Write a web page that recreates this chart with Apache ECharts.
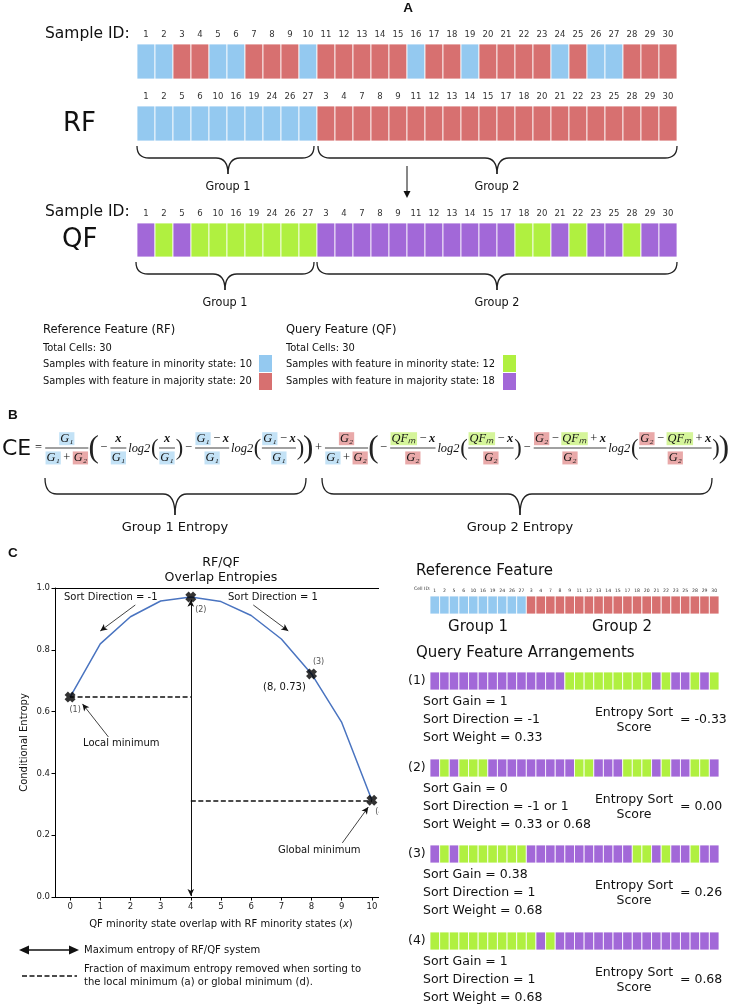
<!DOCTYPE html>
<html>
<head>
<meta charset="utf-8">
<title>Entropy sort overview</title>
<script src="https://cdn.jsdelivr.net/npm/echarts@6/dist/echarts.min.js"></script>
<style>
  html, body { margin: 0; padding: 0; background: #fff; }
  #chart { width: 729px; height: 1008px; }
</style>
</head>
<body>
<div id="chart"></div>
<script>
// ---------- data ----------
const sampleIds = [1,2,3,4,5,6,7,8,9,10,11,12,13,14,15,16,17,18,19,20,21,22,23,24,25,26,27,28,29,30];
// 1 = minority state, 0 = majority state
const rfBySample = [1,1,0,0,1,1,0,0,0,1,0,0,0,0,0,1,0,0,1,0,0,0,0,1,0,1,1,0,0,0];
const sortedIds = [1,2,5,6,10,16,19,24,26,27,3,4,7,8,9,11,12,13,14,15,17,18,20,21,22,23,25,28,29,30];
const rfSorted = [1,1,1,1,1,1,1,1,1,1,0,0,0,0,0,0,0,0,0,0,0,0,0,0,0,0,0,0,0,0];
const qfSorted = [0,1,0,1,1,1,1,1,1,1,0,0,0,0,0,0,0,0,0,0,0,1,1,0,1,0,0,1,0,0];

const arrangement1 = [0,0,0,0,0,0,0,0,0,0,0,0,0,0,1,1,1,1,1,1,1,1,1,0,1,0,0,1,0,1];
const arrangement2 = [0,1,0,1,1,1,0,0,0,0,0,0,0,0,0,1,1,0,0,0,1,1,1,0,1,0,0,1,1,0];
const arrangement3 = [0,1,0,1,1,1,1,1,1,1,0,0,0,0,0,0,0,0,0,0,0,1,1,0,1,0,0,1,0,0];
const arrangement4 = [1,1,1,1,1,1,1,1,1,1,1,0,1,0,0,0,0,0,0,0,0,0,0,0,0,0,0,0,0,0];

const sortGain = ['1', '0', '0.38', '1'];
const sortDirection = ['-1', '-1 or 1', '1', '1'];
const sortWeight = ['0.33', '0.33 or 0.68', '0.68', '0.68'];
const entropySortScore = ['-0.33', '0.00', '0.26', '0.68'];

const overlapX = [0,1,2,3,4,5,6,7,8,9,10];
const conditionalEntropy = [0.647,0.819,0.907,0.958,0.971,0.956,0.911,0.835,0.722,0.565,0.313];
const markedX = [0, 4, 8, 10];
const markedY = [0.647, 0.971, 0.722, 0.313];
const markerLabels = ['(1)', '(2)', '(3)', '(4)'];
const xTicks = [0,1,2,3,4,5,6,7,8,9,10];

// ---------- styling ----------
const FONT = 'DejaVu Sans';
const CFONT = 'DejaVu Sans Condensed';
const MATH = 'Liberation Serif';
const rfColors = ['#d77070', '#94c9f0'];   // majority, minority
const qfColors = ['#a268d8', '#b0f040'];

const grids = [], xAxes = [], yAxes = [], series = [], graphics = [];

function txt(x, y, s, opt) {
  graphics.push({ type: 'text', x: x, y: y, silent: true, z: 10,
    style: Object.assign({ text: s, fontFamily: FONT, fontSize: 12, fill: '#111', align: 'left', verticalAlign: 'middle' }, opt || {}) });
}
function seg(x1, y1, x2, y2, opt) {
  graphics.push({ type: 'line', silent: true, z: 10, shape: { x1: x1, y1: y1, x2: x2, y2: y2 },
    style: Object.assign({ stroke: '#111', lineWidth: 1 }, opt || {}) });
}
function curve(x1, y1, cx, cy, x2, y2) {
  graphics.push({ type: 'bezierCurve', silent: true, z: 10,
    shape: { x1: x1, y1: y1, cpx1: cx, cpy1: cy, x2: x2, y2: y2 },
    style: { stroke: '#222', fill: null, lineWidth: 1.3 } });
}
function box(x, y, w, h, fill, z) {
  graphics.push({ type: 'rect', silent: true, z: z || 10, shape: { x: x, y: y, width: w, height: h }, style: { fill: fill } });
}
function tri(points) {
  graphics.push({ type: 'polygon', silent: true, z: 10, shape: { points: points }, style: { fill: '#111' } });
}
function brace(x1, x2, cx, top, mid, bot) {
  const r = Math.min(12, mid - top);
  const st = { stroke: '#222', lineWidth: 1.3 };
  curve(x1, top, x1, mid, x1 + r, mid);
  seg(x1 + r, mid, cx - r, mid, st);
  curve(cx - r, mid, cx, mid, cx, bot);
  curve(cx, bot, cx, mid, cx + r, mid);
  seg(cx + r, mid, x2 - r, mid, st);
  curve(x2 - r, mid, x2, mid, x2, top);
}

function cellRenderer(palette) {
  return function (params, api) {
    const c = api.coord([api.value(0), api.value(1)]);
    const s = api.size([1, 1]);
    return {
      type: 'rect',
      shape: { x: c[0] - s[0] / 2, y: c[1] - s[1] / 2, width: s[0], height: s[1] },
      style: { fill: palette[api.value(2)], stroke: 'rgba(255,255,255,0.8)', lineWidth: 1 }
    };
  };
}

// one strip of coloured cells = one grid
function stateRow(rect, labels, states, palette, labelSize) {
  const idx = grids.length;
  grids.push({ left: rect[0], top: rect[1], width: rect[2], height: rect[3] });
  xAxes.push({
    type: 'category', gridIndex: idx, position: 'top', data: labels.map(String),
    axisLine: { show: false }, axisTick: { show: false }, splitLine: { show: false },
    axisLabel: { show: labelSize > 0, interval: 0, fontSize: labelSize || 8, color: '#333', fontFamily: FONT, margin: labelSize > 6 ? 5 : 3 }
  });
  yAxes.push({ type: 'category', gridIndex: idx, data: [''], show: false });
  series.push({
    type: 'custom', xAxisIndex: idx, yAxisIndex: idx, silent: true,
    data: states.map(function (s, i) { return [i, 0, s]; }),
    renderItem: cellRenderer(palette)
  });
}

// ---------- panel A ----------
const rfColumn = sortedIds.map(function (id) { return rfBySample[id - 1]; });
stateRow([137, 44, 540, 35], sampleIds, rfBySample, rfColors, 8.5);
stateRow([137, 106, 540, 35], sortedIds, rfSorted, rfColors, 8.5);
stateRow([137, 223, 540, 34], sortedIds, qfSorted, qfColors, 8.5);

txt(408, 8, 'A', { fontWeight: 'bold', fontSize: 13.5, align: 'center', fontFamily: 'Liberation Sans' });
txt(45, 34, 'Sample ID:', { fontSize: 15.5 });
txt(63, 124, 'RF', { fontSize: 26 });
txt(45, 212, 'Sample ID:', { fontSize: 15.5 });
txt(62, 240, 'QF', { fontSize: 26 });

brace(137, 314, 228, 146, 158, 174);
brace(318, 677, 497, 146, 158, 174);
txt(228, 187, 'Group 1', { fontSize: 12.5, align: 'center', fontFamily: CFONT });
txt(497, 187, 'Group 2', { fontSize: 12.5, align: 'center', fontFamily: CFONT });
seg(407, 166, 407, 192, { lineWidth: 1 });
tri([[403.5, 191], [410.5, 191], [407, 198]]);

brace(136, 314, 225, 262, 274, 290);
brace(317, 677, 497, 262, 274, 290);
txt(225, 303, 'Group 1', { fontSize: 12.5, align: 'center', fontFamily: CFONT });
txt(497, 303, 'Group 2', { fontSize: 12.5, align: 'center', fontFamily: CFONT });

const rfMin = rfBySample.filter(function (v) { return v === 1; }).length;
const qfMin = qfSorted.filter(function (v) { return v === 1; }).length;
[[43, 259, 'Reference Feature (RF)', rfMin, rfColors], [286, 503, 'Query Feature (QF)', qfMin, qfColors]].forEach(function (c) {
  txt(c[0], 330, c[2], { fontSize: 12.8, fontFamily: CFONT });
  txt(c[0], 348, 'Total Cells: ' + sampleIds.length, { fontSize: 11, fontFamily: CFONT });
  txt(c[0], 364, 'Samples with feature in minority state: ' + c[3], { fontSize: 11, fontFamily: CFONT });
  txt(c[0], 381, 'Samples with feature in majority state: ' + (sampleIds.length - c[3]), { fontSize: 11, fontFamily: CFONT });
  box(c[1], 355, 13, 17, c[4][1]);
  box(c[1], 373, 13, 17, c[4][0]);
});

// ---------- panel B (formula, laid out left to right from measured widths) ----------
txt(8, 415, 'B', { fontWeight: 'bold', fontSize: 13.5, fontFamily: 'Liberation Sans' });
const FY = 448;
const measureCtx = document.createElement('canvas').getContext('2d');
function measure(s, size, family, italic, bold) {
  measureCtx.font = (italic ? 'italic ' : '') + (bold ? 'bold ' : '') + size + 'px "' + family + '"';
  return measureCtx.measureText(s).width;
}
const PIECE = {
  b: { bg: '#c3e2f6', italic: true }, r: { bg: '#e9a9a9', italic: true }, g: { bg: '#d5f59a', italic: true },
  x: { italic: true, bold: true }, o: {}
};
const G1 = ['b', 'G₁'], G2 = ['r', 'G₂'], QF = ['g', 'QFₘ'], X = ['x', 'x'];
const MINUS = ['o', '\u2009−\u2009'], PLUS = ['o', '\u2009+\u2009'];
const formula = [
  ['op', '='],
  ['frac', [G1], [G1, PLUS, G2]],
  ['big', '('], ['op', '−'], ['frac', [X], [G1]], ['t', 'log2'],
  ['par', '('], ['frac', [X], [G1]], ['par', ')'],
  ['op', '−'], ['frac', [G1, MINUS, X], [G1]], ['t', 'log2'],
  ['par', '('], ['frac', [G1, MINUS, X], [G1]], ['par', ')'], ['big', ')'],
  ['op', '+'],
  ['frac', [G2], [G1, PLUS, G2]],
  ['big', '('], ['op', '−'], ['frac', [QF, MINUS, X], [G2]], ['t', 'log2'],
  ['par', '('], ['frac', [QF, MINUS, X], [G2]], ['par', ')'],
  ['op', '−'], ['frac', [G2, MINUS, QF, PLUS, X], [G2]], ['t', 'log2'],
  ['par', '('], ['frac', [G2, MINUS, QF, PLUS, X], [G2]], ['par', ')'], ['big', ')']
];
function pieceW(p, size) {
  const st = PIECE[p[0]];
  return measure(p[1], size, MATH, st.italic, st.bold) + (st.bg ? 2 : 0);
}
function rowW(row, size) { return row.reduce(function (s, p) { return s + pieceW(p, size); }, 0); }
function tokenW(tk, size) {
  switch (tk[0]) {
    case 'op': return measure(tk[1], size, MATH) + size * 0.3;
    case 'frac': return Math.max(rowW(tk[1], size), rowW(tk[2], size)) + size * 0.15;
    case 'big': return measure(tk[1], size * 2.5, MATH) * 0.8;
    case 'par': return measure(tk[1], size * 1.8, MATH) * 0.85;
    case 't': return measure(tk[1], size, MATH, true) + size * 0.1;
  }
  return 0;
}
function drawRow(row, cx, y, size) {
  let x = cx - rowW(row, size) / 2;
  row.forEach(function (p) {
    const st = PIECE[p[0]];
    const w = pieceW(p, size);
    txt(x + w / 2, y, p[1], {
      fontFamily: MATH, fontSize: size, align: 'center',
      fontStyle: st.italic ? 'italic' : 'normal', fontWeight: st.bold ? 'bold' : 'normal',
      backgroundColor: st.bg || 'transparent', padding: st.bg ? [1, 1, 0, 1] : 0
    });
    x += w;
  });
}
(function layoutFormula() {
  const ceSize = 22;
  txt(2, FY + 1, 'CE', { fontSize: ceSize });
  const x0 = 2 + measure('CE', ceSize, FONT) + 2, x1 = 727, gap = 0.05;
  const base = 12;
  const total = formula.reduce(function (s, tk) { return s + tokenW(tk, base) + base * gap; }, 0);
  const size = Math.min(15, base * (x1 - x0) / total);
  let x = x0;
  formula.forEach(function (tk) {
    const w = tokenW(tk, size);
    const cx = x + w / 2;
    if (tk[0] === 'op') txt(cx, FY, tk[1], { fontFamily: MATH, fontSize: size, align: 'center' });
    else if (tk[0] === 't') txt(cx, FY + 1, tk[1], { fontFamily: MATH, fontStyle: 'italic', fontSize: size, align: 'center' });
    else if (tk[0] === 'big') txt(cx, FY + 1, tk[1], { fontFamily: MATH, fontSize: size * 2.5, align: 'center', fill: '#222' });
    else if (tk[0] === 'par') txt(cx, FY + 1, tk[1], { fontFamily: MATH, fontSize: size * 1.8, align: 'center', fill: '#222' });
    else if (tk[0] === 'frac') {
      drawRow(tk[1], cx, FY - size * 0.75, size);
      seg(x + size * 0.05, FY, x + w - size * 0.05, FY, { lineWidth: 0.8 });
      drawRow(tk[2], cx, FY + size * 0.8, size);
    }
    x += w + size * gap;
  });
})();

brace(45, 306, 175, 478, 494, 515);
brace(322, 712, 520, 478, 494, 515);
txt(175, 528, 'Group 1 Entropy', { fontSize: 13, align: 'center' });
txt(520, 528, 'Group 2 Entropy', { fontSize: 13, align: 'center' });

// ---------- panel C, right: arrangements ----------
stateRow([430, 596, 289, 18], sortedIds, rfColumn, rfColors, 4.6);
const arrangements = [arrangement1, arrangement2, arrangement3, arrangement4];
const arrTops = [672, 759, 845, 932];
arrangements.forEach(function (a, k) {
  stateRow([430, arrTops[k], 289, 18], sortedIds, a, qfColors, 0);
  const t = arrTops[k];
  txt(408, t + 9, '(' + (k + 1) + ')', { fontSize: 12.5 });
  txt(423, t + 30, 'Sort Gain = ' + sortGain[k], { fontSize: 12.5 });
  txt(423, t + 48, 'Sort Direction = ' + sortDirection[k], { fontSize: 12.5 });
  txt(423, t + 66, 'Sort Weight = ' + sortWeight[k], { fontSize: 12.5 });
  txt(634, t + 41, 'Entropy Sort', { fontSize: 12.5, align: 'center' });
  txt(634, t + 56, 'Score', { fontSize: 12.5, align: 'center' });
  txt(680, t + 48, '= ' + entropySortScore[k], { fontSize: 12.5 });
});
txt(416, 571, 'Reference Feature', { fontSize: 15 });
txt(414, 589, 'Cell ID:', { fontSize: 4.6, fill: '#333' });
txt(478, 627, 'Group 1', { fontSize: 15, align: 'center' });
txt(622, 627, 'Group 2', { fontSize: 15, align: 'center' });
txt(416, 653, 'Query Feature Arrangements', { fontSize: 15 });

// ---------- panel C, left: entropy curve ----------
const pIdx = grids.length;
grids.push({ left: 55, top: 588, width: 332, height: 309 });
xAxes.push({
  type: 'value', gridIndex: pIdx, position: 'bottom', min: -0.5, max: 10.5,
  axisLine: { show: true, onZero: false, lineStyle: { color: '#000', width: 1 } },
  axisTick: { show: true, length: 3.5, customValues: xTicks, lineStyle: { color: '#000' } },
  axisLabel: { customValues: xTicks, fontSize: 8.5, color: '#222', fontFamily: FONT, margin: 5 },
  splitLine: { show: false },
  name: 'QF minority state overlap with RF minority states ({i|x})',
  nameLocation: 'middle', nameGap: 22,
  nameTextStyle: { fontSize: 10, color: '#111', fontFamily: FONT, rich: { i: { fontStyle: 'italic', fontSize: 10, fontFamily: FONT } } }
});
xAxes.push({
  type: 'value', gridIndex: pIdx, position: 'top', min: -0.5, max: 10.5,
  axisLine: { show: true, onZero: false, lineStyle: { color: '#000', width: 1 } },
  axisTick: { show: false }, axisLabel: { show: false }, splitLine: { show: false }
});
yAxes.push({
  type: 'value', gridIndex: pIdx, min: 0, max: 1, interval: 0.2,
  axisLine: { show: true, onZero: false, lineStyle: { color: '#000', width: 1 } },
  axisTick: { show: true, length: 3.5, lineStyle: { color: '#000' } },
  axisLabel: { fontSize: 8.5, color: '#222', fontFamily: FONT, margin: 5, formatter: function (v) { return v.toFixed(1); } },
  splitLine: { show: false },
  name: 'Conditional Entropy', nameLocation: 'middle', nameGap: 26, nameRotate: 90,
  nameTextStyle: { fontSize: 10, color: '#111', fontFamily: FONT }
});

function ml(a, b, style, endSymbol, startSymbol) {
  const ls = Object.assign({ color: '#111', width: 1, type: 'solid' }, style);
  return [
    { coord: a, symbol: startSymbol || 'none', symbolSize: [5, 7], lineStyle: ls },
    { coord: b, symbol: endSymbol || 'none', symbolSize: [5, 7], lineStyle: ls }
  ];
}
series.push({
  type: 'line', xAxisIndex: pIdx, yAxisIndex: pIdx,
  data: overlapX.map(function (x, i) { return [x, conditionalEntropy[i]]; }),
  showSymbol: false, lineStyle: { color: '#4a74c0', width: 1.5 }, itemStyle: { color: '#4a74c0' },
  markLine: {
    silent: true, label: { show: false }, symbol: ['none', 'none'], animation: false,
    data: [
      ml([4, 0.003], [4, 0.962], { width: 1 }, 'arrow', 'arrow'),
      ml([0, markedY[0]], [4, markedY[0]], { type: [5, 2.5], width: 1.5 }),
      ml([4, markedY[3]], [10, markedY[3]], { type: [5, 2.5], width: 1.5 }),
      ml([2.16, 0.945], [1.0, 0.861], { width: 0.8 }, 'arrow'),
      ml([6.07, 0.945], [7.23, 0.861], { width: 0.8 }, 'arrow'),
      ml([1.27, 0.518], [0.41, 0.625], { width: 0.8 }, 'arrow'),
      ml([9.02, 0.175], [9.88, 0.291], { width: 0.8 }, 'arrow')
    ]
  }
});
const labelOffsets = [[5, 13], [10, 13], [7, -12], [9, 12]];
series.push({
  type: 'scatter', xAxisIndex: pIdx, yAxisIndex: pIdx, z: 5,
  symbol: 'path://M0,3L3,0L5,2L7,0L10,3L8,5L10,7L7,10L5,8L3,10L0,7L2,5Z', symbolSize: 11,
  itemStyle: { color: '#000' },
  data: markedX.map(function (x, i) {
    return { value: [x, markedY[i]],
      label: { show: true, formatter: markerLabels[i], position: 'inside', offset: labelOffsets[i], fontSize: 8, color: '#222', fontFamily: FONT } };
  })
});

txt(8, 553, 'C', { fontWeight: 'bold', fontSize: 13.5, fontFamily: 'Liberation Sans' });
txt(221, 563, 'RF/QF', { fontSize: 12.6, align: 'center' });
txt(221, 578, 'Overlap Entropies', { fontSize: 12.6, align: 'center' });
txt(64, 597, 'Sort Direction = -1', { fontSize: 10 });
txt(228, 597, 'Sort Direction = 1', { fontSize: 10 });
txt(263, 687, '(8, 0.73)', { fontSize: 10 });
txt(83, 743, 'Local minimum', { fontSize: 10 });
txt(278, 850, 'Global minimum', { fontSize: 10 });
// picture is cropped just right of the plot
box(379, 555, 22, 380, '#fff', 50);

// legend of the curve
seg(26, 950, 72, 950, { lineWidth: 1.5 });
tri([[19, 950], [29, 945.5], [29, 954.5]]);
tri([[79, 950], [69, 945.5], [69, 954.5]]);
txt(84, 950, 'Maximum entropy of RF/QF system', { fontSize: 10 });
seg(22, 976, 77, 976, { lineWidth: 1.5, lineDash: [5, 2.5] });
txt(84, 969, 'Fraction of maximum entropy removed when sorting to', { fontSize: 10 });
txt(84, 982, 'the local minimum (a) or global minimum (d).', { fontSize: 10 });

// ---------- chart ----------
const chart = echarts.init(document.getElementById('chart'));
chart.setOption({
  animation: false,
  backgroundColor: '#fff',
  grid: grids,
  xAxis: xAxes,
  yAxis: yAxes,
  series: series,
  graphic: graphics
});
</script>
</body>
</html>
